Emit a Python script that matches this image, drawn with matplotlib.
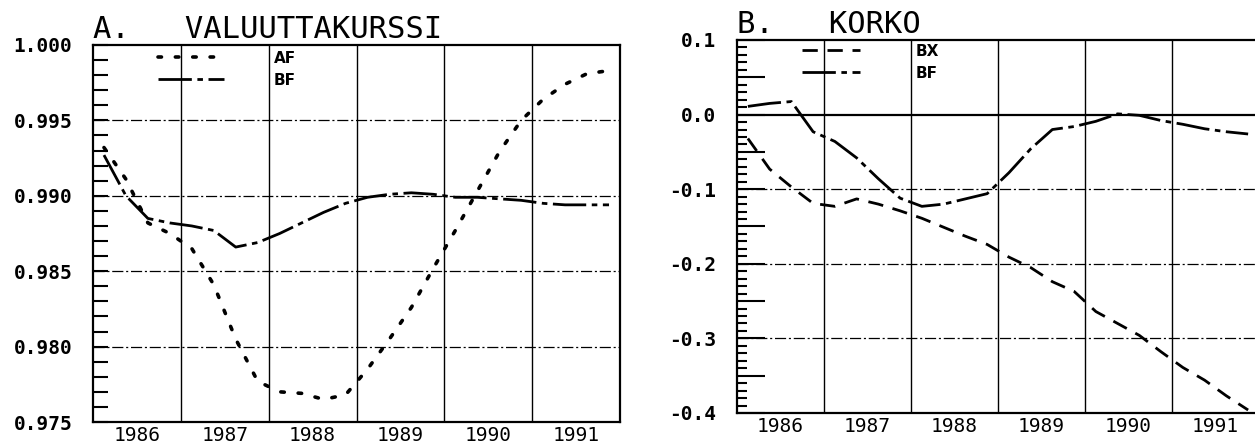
import numpy as np
import matplotlib.pyplot as plt
import matplotlib.ticker as mticker

plt.rcParams['axes.unicode_minus'] = False
plt.rcParams['lines.scale_dashes'] = False
plt.rcParams['font.family'] = 'DejaVu Sans Mono'

# quarterly observations 1986Q1 .. 1991Q4
YEARS = [1986, 1987, 1988, 1989, 1990, 1991]
QUARTER_POS = [0.125, 0.375, 0.625, 0.875]

# A. valuuttakurssi
AF = [0.9932, 0.9911, 0.9882, 0.9875, 0.9865, 0.9841, 0.9805, 0.9777,
      0.9770, 0.9769, 0.9765, 0.9768, 0.9785, 0.9805, 0.9826, 0.9852,
      0.9877, 0.9903, 0.9929, 0.9950, 0.9964, 0.9974, 0.9981, 0.9983]
BF_A = [0.9927, 0.9900, 0.9885, 0.9882, 0.9880, 0.9877, 0.9866, 0.9869,
        0.9875, 0.9882, 0.9889, 0.9895, 0.9899, 0.9901, 0.9902, 0.9901,
        0.9899, 0.9899, 0.9898, 0.9897, 0.9895, 0.9894, 0.9894, 0.9894]

# B. korko
BX = [-0.032, -0.073, -0.097, -0.119, -0.123, -0.113, -0.120, -0.129,
      -0.139, -0.151, -0.163, -0.174, -0.191, -0.205, -0.224, -0.237,
      -0.264, -0.280, -0.296, -0.318, -0.339, -0.356, -0.377, -0.396]
BF_B = [0.011, 0.015, 0.0175, -0.023, -0.036, -0.058, -0.086, -0.112,
        -0.123, -0.120, -0.113, -0.106, -0.078, -0.046, -0.020, -0.016,
        -0.009, 0.001, -0.001, -0.008, -0.013, -0.019, -0.023, -0.026]

YTICKS_A = [0.975, 0.980, 0.985, 0.990, 0.995, 1.000]
YTICKS_B = [-0.4, -0.3, -0.2, -0.1, 0.0, 0.1]

t = np.array([y + q for y in YEARS for q in QUARTER_POS])

W, H = 1255, 446
fig = plt.figure(figsize=(W / 100, H / 100), dpi=100)
axA = fig.add_axes([93 / W, 1 - 422 / H, 527 / W, 377 / H])
axB = fig.add_axes([737 / W, 1 - 413 / H, 522 / W, 373 / H])

AF_STYLE = dict(color='k', lw=2.6, ls=(0, (2.5, 10)), dash_capstyle='round')
BF_STYLE = dict(color='k', lw=2.0, ls=(0, (24, 4, 4, 4)))
BX_STYLE = dict(color='k', lw=2.0, ls=(0, (11, 7)))

axA.plot(t, AF, label='AF', **AF_STYLE)
axA.plot(t, BF_A, label='BF', **BF_STYLE)
axB.plot(t, BX, label='BX', **BX_STYLE)
axB.plot(t, BF_B, label='BF', **BF_STYLE)

for ax in (axA, axB):
    ax.set_xlim(YEARS[0], YEARS[-1] + 1)
    ax.set_xticks(YEARS[1:])
    ax.set_xticklabels([])
    ax.set_xticks([y + 0.5 for y in YEARS], minor=True)
    ax.set_xticklabels([str(y) for y in YEARS], minor=True, fontsize=14)
    ax.tick_params(axis='x', which='both', length=0, pad=3)
    ax.grid(axis='x', which='major', color='k', lw=1.0, ls='-')
    for s in ax.spines.values():
        s.set_linewidth(1.6)

# left panel axis
axA.set_ylim(YTICKS_A[0], YTICKS_A[-1])
axA.set_yticks(YTICKS_A)
axA.yaxis.set_major_formatter(mticker.FormatStrFormatter('%.3f'))
axA.yaxis.set_minor_locator(mticker.MultipleLocator(0.001))
axA.tick_params(axis='y', which='both', direction='in', length=11, width=1.5,
                labelsize=14, pad=15)
for v in YTICKS_A[1:-1]:
    axA.axhline(v, color='k', lw=0.9, ls=(0, (8, 2, 1.5, 2)))

# right panel axis
axB.set_ylim(YTICKS_B[0], YTICKS_B[-1])
axB.yaxis.set_major_locator(mticker.MultipleLocator(0.05))
axB.yaxis.set_minor_locator(mticker.MultipleLocator(0.01))
axB.yaxis.set_major_formatter(mticker.FuncFormatter(
    lambda v, p: '%.1f' % v if abs(v * 10 - round(v * 10)) < 1e-6 else ''))
axB.tick_params(axis='y', which='major', direction='in', length=20, width=1.5,
                labelsize=14, pad=15)
axB.tick_params(axis='y', which='minor', direction='in', length=7, width=1.5)
for v in YTICKS_B[1:-1]:
    if v == 0.0:
        axB.axhline(v, color='k', lw=1.6, ls='-')
    else:
        axB.axhline(v, color='k', lw=0.9, ls=(0, (8, 2, 1.5, 2)))

for ax in (axA, axB):
    for lbl in ax.get_yticklabels():
        lbl.set_fontweight('bold')

axA.set_title('A.   VALUUTTAKURSSI', loc='left', fontsize=22, pad=5)
axB.set_title('B.   KORKO', loc='left', fontsize=22, pad=5)

legA = axA.legend(loc='upper left', bbox_to_anchor=(0.123, 0.985), frameon=False,
                  borderpad=0, borderaxespad=0, handlelength=4.3, handletextpad=3.3,
                  labelspacing=0.45, prop={'family': 'DejaVu Sans', 'weight': 'bold', 'size': 11})
legB = axB.legend(loc='upper left', bbox_to_anchor=(0.125, 0.99), frameon=False,
                  borderpad=0, borderaxespad=0, handlelength=3.8, handletextpad=3.6,
                  labelspacing=0.45, prop={'family': 'DejaVu Sans', 'weight': 'bold', 'size': 11})

fig.savefig('out.png', dpi=100)
